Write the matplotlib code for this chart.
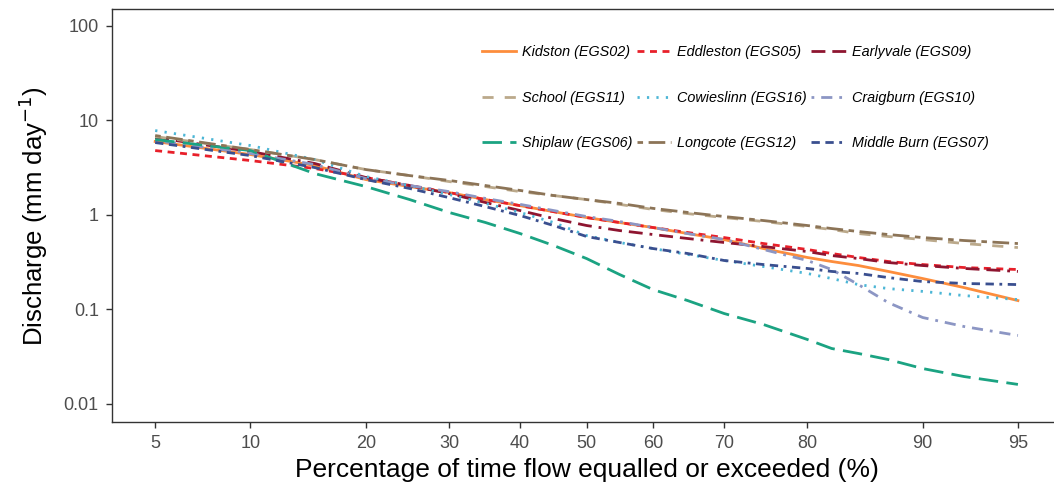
import math
import numpy as np
import matplotlib
matplotlib.use("Agg")
import matplotlib.pyplot as plt

plt.rcParams["font.family"] = ["Liberation Sans", "DejaVu Sans"]

# percentage of time flow equalled or exceeded
pct = [5, 10, 15, 20, 25, 30, 35, 40, 45, 50, 55, 60, 65, 70, 75, 80, 82.5, 85, 87.5, 90, 92.5, 95]

kidston = [5.96, 4.34, 3.32, 2.36, 1.99, 1.72, 1.45, 1.25, 1.08, 0.936, 0.829, 0.734, 0.634, 0.548, 0.440, 0.354, 0.321, 0.291, 0.252, 0.212, 0.170, 0.124]
eddleston = [4.78, 3.75, 3.09, 2.48, 2.04, 1.72, 1.45, 1.25, 1.08, 0.936, 0.829, 0.734, 0.650, 0.575, 0.497, 0.430, 0.390, 0.354, 0.321, 0.298, 0.277, 0.264]
earlyvale = [6.56, 4.67, 3.49, 2.48, 2.04, 1.68, 1.35, 1.11, 0.914, 0.771, 0.682, 0.619, 0.562, 0.510, 0.462, 0.409, 0.371, 0.345, 0.313, 0.291, 0.271, 0.252]
school = [6.72, 4.90, 3.84, 3.01, 2.60, 2.25, 1.99, 1.76, 1.60, 1.45, 1.29, 1.14, 1.03, 0.936, 0.850, 0.752, 0.699, 0.634, 0.590, 0.548, 0.497, 0.451]
cowieslinn = [7.78, 5.40, 3.84, 2.54, 2.04, 1.64, 1.32, 1.06, 0.829, 0.604, 0.510, 0.440, 0.381, 0.329, 0.284, 0.240, 0.212, 0.183, 0.166, 0.155, 0.140, 0.127]
craigburn = [6.10, 4.45, 3.40, 2.42, 2.04, 1.76, 1.49, 1.29, 1.11, 0.959, 0.850, 0.734, 0.634, 0.548, 0.430, 0.329, 0.264, 0.183, 0.118, 0.0821, 0.0659, 0.0530]
shiplaw = [6.25, 4.78, 2.73, 1.99, 1.45, 1.06, 0.829, 0.634, 0.474, 0.345, 0.234, 0.162, 0.124, 0.0905, 0.0692, 0.0481, 0.0386, 0.0342, 0.0295, 0.0237, 0.0195, 0.0161]
longcote = [6.89, 4.90, 3.84, 3.01, 2.60, 2.31, 2.04, 1.81, 1.60, 1.45, 1.32, 1.17, 1.06, 0.959, 0.870, 0.771, 0.716, 0.666, 0.619, 0.575, 0.535, 0.497]
middle_burn = [5.81, 4.23, 3.16, 2.36, 1.90, 1.52, 1.22, 0.983, 0.771, 0.590, 0.510, 0.440, 0.390, 0.329, 0.298, 0.271, 0.252, 0.240, 0.217, 0.197, 0.188, 0.183]

labels = ["Kidston (EGS02)", "Eddleston (EGS05)", "Earlyvale (EGS09)",
          "School (EGS11)", "Cowieslinn (EGS16)", "Craigburn (EGS10)",
          "Shiplaw (EGS06)", "Longcote (EGS12)", "Middle Burn (EGS07)"]
series = [kidston, eddleston, earlyvale, school, cowieslinn, craigburn, shiplaw, longcote, middle_burn]
colors = ["#FD8D3C", "#E8202A", "#8E1530", "#BBA98B", "#4CB6D6", "#8C96C4", "#1BA382", "#8C7457", "#3A4F8F"]
styles = ["-", (0, (2.5, 2)), (0, (5, 2.5, 5, 2.5, 1, 2.5)),
          (0, (4, 4)), (0, (0.8, 2.6)), (0, (1, 2.5, 4, 2.5)),
          (0, (7, 3)), (0, (2, 2, 6, 2)), (0, (3, 2, 3, 2, 1, 2))]

xticks = [5, 10, 20, 30, 40, 50, 60, 70, 80, 90, 95]
yticks = [0.01, 0.1, 1, 10, 100]
ytick_labels = ["0.01", "0.1", "1", "10", "100"]


# normal probability (probit) axis
A = [-3.969683028665376e+01, 2.209460984245205e+02, -2.759285104469687e+02, 1.383577518672690e+02, -3.066479806614716e+01, 2.506628277459239e+00]
B = [-5.447609879822406e+01, 1.615858368580409e+02, -1.556989798598866e+02, 6.680131188771972e+01, -1.328068155288572e+01]
C = [-7.784894002430293e-03, -3.223964580411365e-01, -2.400758277161838e+00, -2.549732539343734e+00, 4.374664141464968e+00, 2.938163982698783e+00]
D = [7.784695709041462e-03, 3.224671290700398e-01, 2.445134137142996e+00, 3.754408661907416e+00]


def _ppf(p):
    p = min(max(p, 1e-9), 1 - 1e-9)
    if p < 0.02425:
        q = math.sqrt(-2 * math.log(p))
        return (((((C[0]*q+C[1])*q+C[2])*q+C[3])*q+C[4])*q+C[5]) / ((((D[0]*q+D[1])*q+D[2])*q+D[3])*q+1)
    if p > 1 - 0.02425:
        q = math.sqrt(-2 * math.log(1 - p))
        return -(((((C[0]*q+C[1])*q+C[2])*q+C[3])*q+C[4])*q+C[5]) / ((((D[0]*q+D[1])*q+D[2])*q+D[3])*q+1)
    q = p - 0.5
    r = q * q
    return (((((A[0]*r+A[1])*r+A[2])*r+A[3])*r+A[4])*r+A[5])*q / (((((B[0]*r+B[1])*r+B[2])*r+B[3])*r+B[4])*r+1)


_vppf = np.vectorize(_ppf, otypes=[float])
_verf = np.vectorize(math.erf, otypes=[float])


def forward(x):
    return _vppf(np.asarray(x, dtype=float) / 100.0)


def inverse(z):
    return 50.0 * (1 + _verf(np.asarray(z, dtype=float) / math.sqrt(2)))


fig = plt.figure(figsize=(10.54, 4.93), dpi=100)
ax = fig.add_axes([0.1063, 0.1434, 0.9004, 0.8383])
ax.set_xscale("function", functions=(forward, inverse))
ax.set_yscale("log")

lines = []
for y, lab, c, ls in zip(series, labels, colors, styles):
    ln, = ax.plot(pct, y, color=c, linestyle=ls, linewidth=2, label=lab)
    lines.append(ln)

ax.set_xlim(3.52, 96.48)
ax.set_ylim(0.0064, 150)
ax.set_xticks(xticks)
ax.set_xticklabels([str(t) for t in xticks])
ax.set_yticks(yticks)
ax.set_yticklabels(ytick_labels)
ax.minorticks_off()
ax.tick_params(direction="out", length=4.5, width=1, color="#333333",
               labelcolor="#4D4D4D", labelsize=13, pad=5)
for s in ax.spines.values():
    s.set_color("#333333")
    s.set_linewidth(1)

ax.set_xlabel("Percentage of time flow equalled or exceeded (%)", fontsize=19, labelpad=4)
ax.set_ylabel("Discharge (mm day$^{-1}$)", fontsize=18.5, labelpad=10)

# legend fills row by row: reorder for matplotlib's column-major layout
order = [0, 3, 6, 1, 4, 7, 2, 5, 8]
fig.legend([lines[i] for i in order], [labels[i] for i in order],
           loc="upper left", bbox_to_anchor=(0.457, 0.908), ncol=3,
           frameon=False, prop={"style": "italic", "size": 10.4},
           handlelength=2.4, handletextpad=0.4, columnspacing=0.3,
           labelspacing=2.18, borderpad=0, borderaxespad=0)

fig.savefig("out.png", dpi=100)
